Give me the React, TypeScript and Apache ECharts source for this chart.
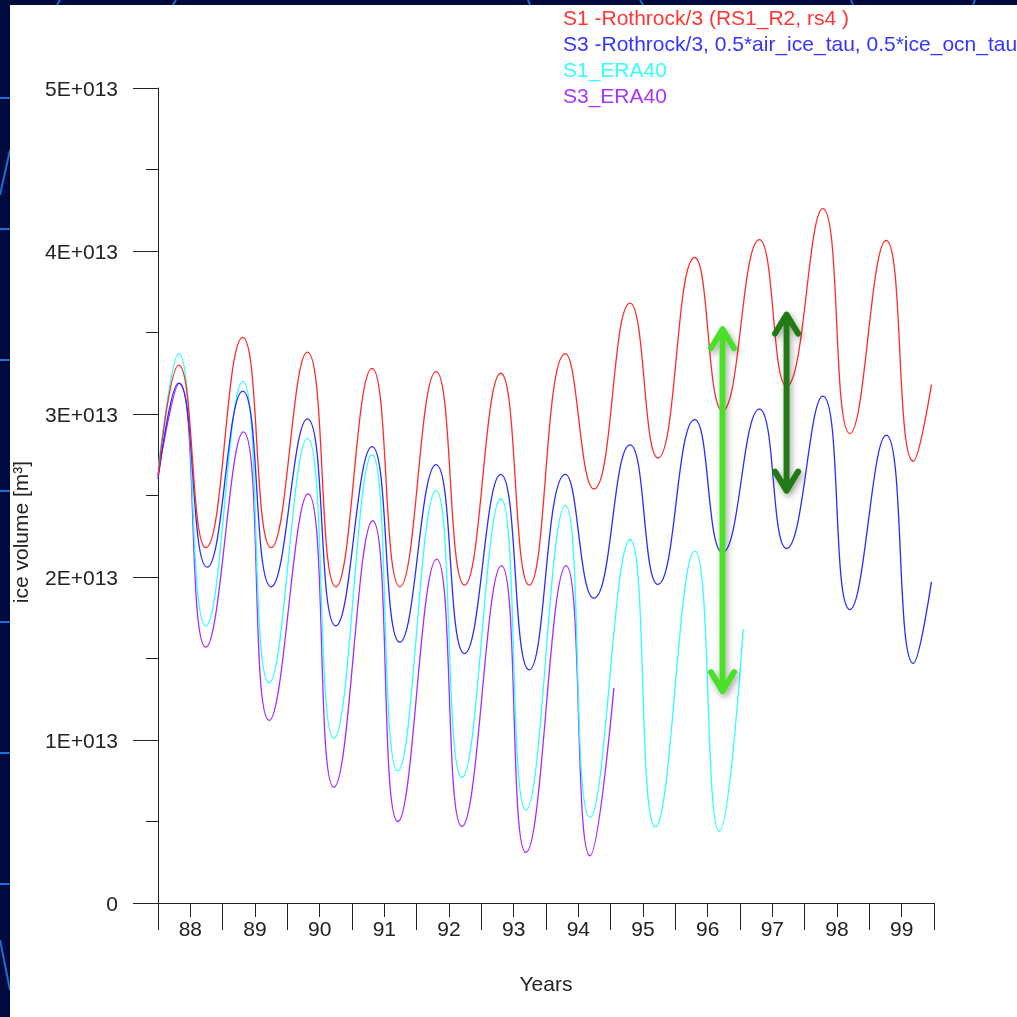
import React, { useEffect, useRef } from "react";
import * as echarts from "echarts";

const FONT = "'Liberation Sans', Arial, Helvetica, sans-serif";
const FS = 21;
const E13 = 1e13;

// [year, ice volume in units of 1E+013 m³], read at start, seasonal peaks, troughs and end
const s1Rothrock: number[][] = [
  [88.0, 2.62], [88.32, 3.3], [88.74, 2.18], [89.31, 3.47], [89.75, 2.18], [90.31, 3.38],
  [90.75, 1.94], [91.31, 3.28], [91.74, 1.94], [92.3, 3.26], [92.74, 1.95], [93.3, 3.25],
  [93.74, 1.95], [94.3, 3.37], [94.74, 2.54], [95.3, 3.68], [95.73, 2.73], [96.3, 3.96],
  [96.73, 3.02], [97.3, 4.07], [97.72, 3.17], [98.28, 4.26], [98.7, 2.88], [99.26, 4.065],
  [99.68, 2.71], [99.96, 3.18],
];
const s3Rothrock: number[][] = [
  [88.0, 2.6], [88.32, 3.19], [88.76, 2.06], [89.31, 3.14], [89.75, 1.94], [90.31, 2.97],
  [90.75, 1.7], [91.31, 2.8], [91.74, 1.6], [92.3, 2.69], [92.74, 1.53], [93.3, 2.63],
  [93.74, 1.43], [94.3, 2.63], [94.74, 1.87], [95.3, 2.81], [95.73, 1.955], [96.3, 2.965],
  [96.73, 2.15], [97.3, 3.03], [97.72, 2.175], [98.28, 3.11], [98.7, 1.8], [99.26, 2.87],
  [99.68, 1.47], [99.96, 1.97],
];
const s1Era40: number[][] = [
  [88.0, 2.66], [88.32, 3.37], [88.74, 1.7], [89.31, 3.2], [89.72, 1.35], [90.31, 2.85],
  [90.72, 1.01], [91.31, 2.75], [91.71, 0.81], [92.3, 2.53], [92.7, 0.77], [93.3, 2.48],
  [93.69, 0.57], [94.3, 2.44], [94.68, 0.525], [95.3, 2.23], [95.69, 0.467], [96.3, 2.16],
  [96.68, 0.44], [97.05, 1.68],
];
const s3Era40: number[][] = [
  [88.0, 2.62], [88.33, 3.19], [88.74, 1.57], [89.32, 2.89], [89.72, 1.12], [90.32, 2.51],
  [90.72, 0.71], [91.32, 2.345], [91.71, 0.5], [92.31, 2.11], [92.7, 0.47], [93.31, 2.07],
  [93.69, 0.31], [94.31, 2.07], [94.68, 0.29], [95.05, 1.32],
];

const seriesNames = [
  "S1 -Rothrock/3 (RS1_R2, rs4 )",
  "S3 -Rothrock/3, 0.5*air_ice_tau, 0.5*ice_ocn_tau",
  "S1_ERA40",
  "S3_ERA40",
];
const seriesColors = ["#ff2b2b", "#2b2bff", "#2effff", "#a52bff"];
const legendColors = ["#ff3535", "#3535ff", "#35ffff", "#aa35ff"];
const seriesData = [s1Rothrock, s3Rothrock, s1Era40, s3Era40];

// annotation arrows: [year, top value, bottom value] in 1E+013 units
const lightArrow = [96.73, 3.52, 1.3];
const darkArrow = [97.72, 3.61, 2.53];

const X_MIN = 88;
const X_MAX = 100;
const Y_MAX = 5 * E13;

export default function App() {
  const ref = useRef<HTMLDivElement>(null);

  useEffect(() => {
    if (!ref.current) return;
    const chart = echarts.init(ref.current, undefined, { renderer: "svg" });

    const axisColor = "#222";
    chart.setOption({
      animation: false,
      backgroundColor: "transparent",
      grid: { left: 158, top: 88, right: 83, bottom: 114, containLabel: false },
      legend: {
        orient: "vertical",
        left: 558,
        top: 7,
        padding: 0,
        icon: "none",
        itemWidth: 0,
        itemHeight: 14,
        itemGap: 5,
        selectedMode: false,
        textStyle: { fontSize: FS, fontFamily: FONT, lineHeight: 21 },
        data: seriesNames.map((n, i) => ({ name: n, textStyle: { color: legendColors[i] } })),
      },
      xAxis: [
        {
          type: "value",
          min: X_MIN,
          max: X_MAX,
          interval: 1,
          name: "Years",
          nameLocation: "middle",
          nameGap: 70,
          nameTextStyle: { fontSize: FS, fontFamily: FONT, color: axisColor },
          axisLine: { show: true, onZero: false, lineStyle: { color: axisColor, width: 1 } },
          axisTick: { show: true, length: 27, lineStyle: { color: axisColor } },
          minorTick: { show: true, splitNumber: 2, length: 14, lineStyle: { color: axisColor } },
          axisLabel: { show: false },
          splitLine: { show: false },
          minorSplitLine: { show: false },
        },
        {
          type: "value",
          min: X_MIN,
          max: X_MAX,
          interval: 0.5,
          position: "bottom",
          axisLine: { show: false },
          axisTick: { show: false },
          splitLine: { show: false },
          axisLabel: {
            show: true,
            margin: 15,
            fontSize: FS,
            fontFamily: FONT,
            color: axisColor,
            formatter: (v: number) => (Math.abs((v % 1) - 0.5) < 1e-6 ? String(Math.floor(v)) : ""),
          },
        },
      ],
      yAxis: {
        type: "value",
        min: 0,
        max: Y_MAX,
        interval: E13,
        axisLine: { show: true, onZero: false, lineStyle: { color: axisColor, width: 1 } },
        axisTick: { show: true, length: 25, lineStyle: { color: axisColor } },
        minorTick: { show: true, splitNumber: 2, length: 12, lineStyle: { color: axisColor } },
        splitLine: { show: false },
        minorSplitLine: { show: false },
        axisLabel: {
          margin: 40,
          fontSize: FS,
          fontFamily: FONT,
          color: axisColor,
          formatter: (v: number) => (v === 0 ? "0" : `${Math.round(v / E13)}E+013`),
        },
      },
      series: seriesData.map((d, i) => ({
        name: seriesNames[i],
        type: "line",
        xAxisIndex: 0,
        yAxisIndex: 0,
        data: d.map((p) => [p[0], p[1] * E13]),
        showSymbol: false,
        symbol: "none",
        smooth: 0.5,
        color: seriesColors[i],
        lineStyle: { color: seriesColors[i], width: 1.3 },
        z: 2 + (3 - i),
      })),
    });

    const px = (t: number, v: number) =>
      chart.convertToPixel({ xAxisIndex: 0, yAxisIndex: 0 }, [t, v * E13]) as number[];

    const makeArrow = (a: number[], color: string) => {
      const top = px(a[0], a[1]);
      const bot = px(a[0], a[2]);
      const x = top[0];
      const t = top[1];
      const b = bot[1];
      return {
        type: "polyline",
        z: 100,
        shape: {
          points: [
            [x - 11.5, t + 19], [x, t], [x + 11.5, t + 19], [x, t],
            [x, b], [x - 11.5, b - 19], [x, b], [x + 11.5, b - 19],
          ],
        },
        style: {
          stroke: color,
          lineWidth: 6,
          lineCap: "round",
          lineJoin: "round",
          fill: null,
          shadowBlur: 6,
          shadowOffsetX: 2,
          shadowOffsetY: 3,
          shadowColor: "rgba(0,0,0,0.35)",
        },
      };
    };

    const lineBlue = "#1c6ed8";
    const bgLines: number[][] = [
      [0, 98, 10, 98], [0, 229, 10, 229], [0, 360, 10, 360], [0, 491, 10, 491],
      [0, 622, 10, 622], [0, 753, 10, 753], [0, 884, 10, 884],
      [0, 195, 10, 150], [0, 940, 10, 990],
      [57, 5, 60, 0], [173, 5, 176, 0], [530, 5, 528, 0], [643, 5, 640, 0], [853, 5, 851, 0], [973, 5, 975, 0],
    ];

    chart.setOption({
      graphic: [
        { type: "rect", z: -100, shape: { x: 0, y: 0, width: 1017, height: 1017 }, style: { fill: "#000a3e" } },
        ...bgLines.map((l) => ({
          type: "line",
          z: -99,
          shape: { x1: l[0], y1: l[1], x2: l[2], y2: l[3] },
          style: { stroke: lineBlue, lineWidth: 2 },
        })),
        { type: "rect", z: -98, shape: { x: 10, y: 5, width: 1007, height: 1012 }, style: { fill: "#ffffff" } },
        {
          type: "text",
          z: 10,
          x: 20,
          y: 532,
          rotation: Math.PI / 2,
          style: {
            text: "ice volume [m³]",
            fontSize: FS,
            fontFamily: FONT,
            fill: "#222",
            align: "center",
            verticalAlign: "middle",
          },
        },
        makeArrow(lightArrow, "#4bdf2b"),
        makeArrow(darkArrow, "#247a18"),
      ],
    });

    return () => chart.dispose();
  }, []);

  return (
    <div
      ref={ref}
      style={{ position: "fixed", left: 0, top: 0, width: 1017, height: 1017 }}
    />
  );
}
